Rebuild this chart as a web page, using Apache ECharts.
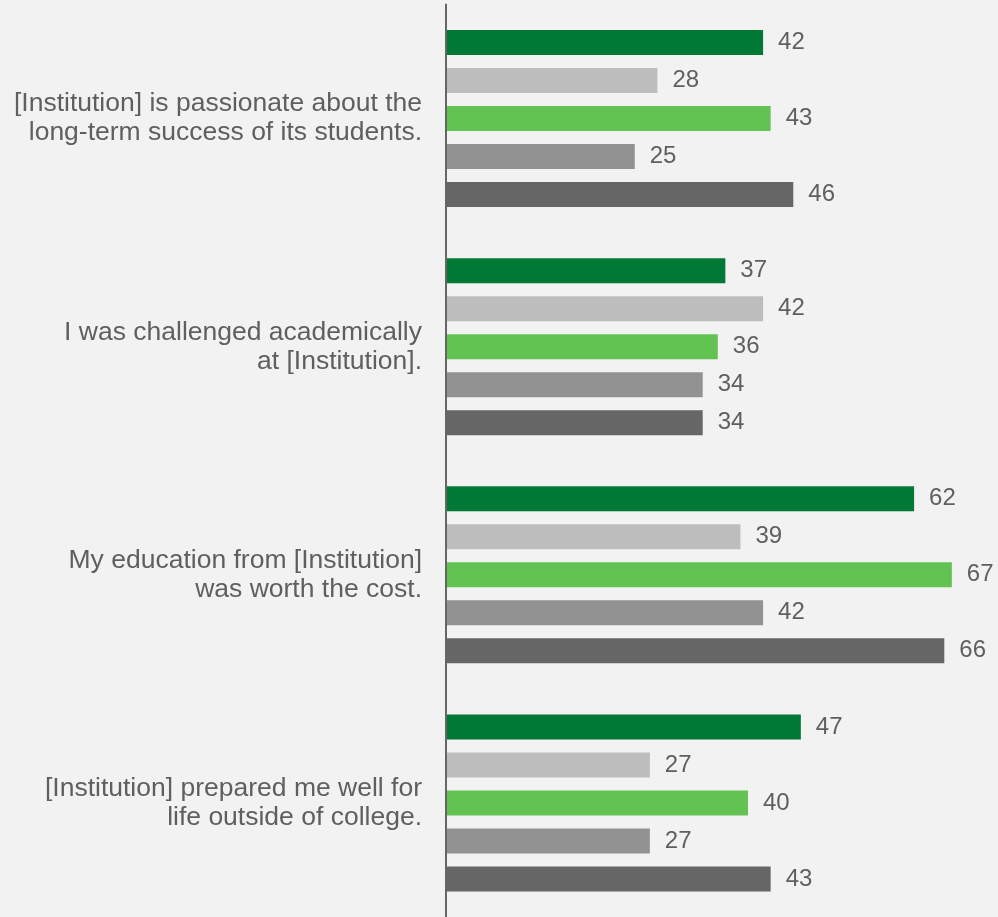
<!DOCTYPE html>
<html>
<head>
<meta charset="utf-8">
<script src="https://cdn.jsdelivr.net/npm/echarts@6/dist/echarts.min.js"></script>
<style>
  html, body { margin: 0; padding: 0; background: #f2f2f2; }
  #chart { width: 998px; height: 917px; }
</style>
</head>
<body>
<div id="chart"></div>
<script>
// statements (top to bottom)
const categories = [
  "[Institution] is passionate about the\nlong-term success of its students.",
  "I was challenged academically\nat [Institution].",
  "My education from [Institution]\nwas worth the cost.",
  "[Institution] prepared me well for\nlife outside of college."
];
// five bars per statement, top to bottom
const seriesA = [42, 37, 62, 47];
const seriesB = [28, 42, 39, 27];
const seriesC = [43, 36, 67, 40];
const seriesD = [25, 34, 42, 27];
const seriesE = [46, 34, 66, 43];

const colors = ["#007934", "#bdbdbd", "#62c353", "#929292", "#666666"];
const allData = [seriesA, seriesB, seriesC, seriesD, seriesE];
const FONT = "'Liberation Sans', Arial, sans-serif";

const chart = echarts.init(document.getElementById("chart"));

const series = allData.map((d, i) => ({
  type: "bar",
  data: d,
  barWidth: 25,
  barGap: "52%",
  itemStyle: { color: colors[i] },
  label: {
    show: true,
    position: "right",
    distance: 15,
    color: "#5f5f5f",
    fontSize: 24,
    fontFamily: FONT
  }
}));

chart.setOption({
  backgroundColor: "#f2f2f2",
  animation: false,
  grid: { left: 446, width: 528.5, top: 4.5, height: 916, containLabel: false },
  xAxis: {
    type: "value",
    min: 0,
    max: 70,
    show: false
  },
  yAxis: {
    type: "category",
    inverse: true,
    data: categories,
    axisLine: { show: true, lineStyle: { color: "#666666", width: 2 } },
    axisTick: { show: false },
    axisLabel: {
      margin: 24,
      color: "#5f5f5f",
      fontSize: 26.5,
      lineHeight: 29,
      align: "right",
      fontFamily: FONT
    },
    z: 10
  },
  series: series
});
</script>
</body>
</html>
